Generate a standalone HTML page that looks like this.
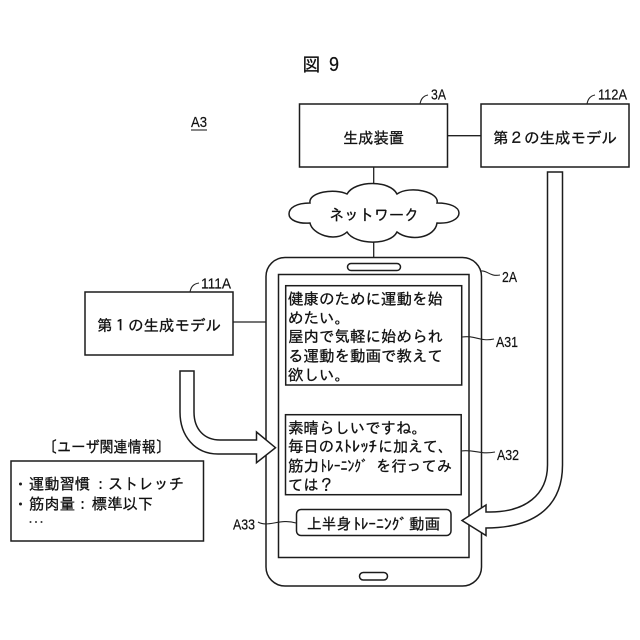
<!DOCTYPE html>
<html lang="ja">
<head>
<meta charset="utf-8">
<title>図9</title>
<style>
html,body{margin:0;padding:0;background:#fff;width:640px;height:640px;overflow:hidden}
svg{display:block}
text{font-family:"IPAGothic","Noto Sans CJK JP",sans-serif;font-size:15.6px;fill:#111;stroke:#111;stroke-width:.3px}
.l{font-family:"Liberation Sans","IPAGothic",sans-serif;font-size:15px;stroke-width:.2px}
.s{fill:#fff;stroke:#1c1c1c;stroke-width:1.5}
.n{fill:none;stroke:#222;stroke-width:1.1}
</style>
</head>
<body>
<svg width="640" height="640" viewBox="0 0 640 640" xmlns="http://www.w3.org/2000/svg">
<text x="302.5" y="71" style="font-size:18.5px" textLength="18" lengthAdjust="spacingAndGlyphs">図</text>
<text class="l" x="329" y="71" style="font-size:20px" textLength="10" lengthAdjust="spacingAndGlyphs">9</text>

<text class="l" x="191" y="127" textLength="16" lengthAdjust="spacingAndGlyphs">A3</text>
<line x1="191" y1="130" x2="207" y2="130" class="n"/>

<!-- connectors -->
<line x1="448" y1="135.7" x2="481" y2="135.7" class="n" style="stroke-width:1.3"/>
<line x1="373.7" y1="167" x2="373.7" y2="258" class="n" style="stroke-width:1.3"/>
<line x1="233" y1="322" x2="266" y2="322" class="n" style="stroke-width:1.3"/>

<!-- top boxes -->
<rect x="299.5" y="104" width="148" height="63" class="s"/>
<rect x="481" y="104" width="148" height="63" class="s"/>
<text x="343" y="143.5" textLength="61" lengthAdjust="spacingAndGlyphs">生成装置</text>
<text x="493" y="143.5" textLength="124" lengthAdjust="spacingAndGlyphs">第２の生成モデル</text>
<text class="l" x="431" y="99.5" textLength="15" lengthAdjust="spacingAndGlyphs">3A</text>
<text class="l" x="598" y="99.5" textLength="29" lengthAdjust="spacingAndGlyphs">112A</text>
<path d="M420,104 C421,99 423,96 428,95" class="n"/>
<path d="M587,104 C588,99 590,96 595,95" class="n"/>

<!-- cloud -->
<path d="M310,203 C296,203 289,208 289,214 C289,220 298,224 310,223 C312,234 335,243 347,232 C355,245 390,246 397,232 C410,242 435,238 437,223 C450,224 459,219 459,213 C459,207 450,203 437,203 C440,192 410,185 397,194 C390,180 355,180 347,194 C335,188 308,192 310,203Z" class="s"/>
<text x="329" y="220.5" textLength="90" lengthAdjust="spacingAndGlyphs">ネットワーク</text>

<!-- phone -->
<rect x="266" y="257.5" width="215.5" height="328.5" rx="19" ry="19" class="s"/>
<rect x="347.5" y="263.5" width="53" height="7" rx="3.5" ry="3.5" class="s"/>
<rect x="278.5" y="274.5" width="190.5" height="283" class="s"/>
<rect x="359.5" y="572.5" width="28" height="7.5" rx="3.7" ry="3.7" class="s"/>

<!-- A31 -->
<rect x="285.7" y="285.7" width="176" height="99.3" class="s"/>
<text x="288" y="304.5" textLength="155" lengthAdjust="spacingAndGlyphs">健康のために運動を始</text>
<text x="288" y="323.5" textLength="62" lengthAdjust="spacingAndGlyphs">めたい。</text>
<text x="288" y="342" textLength="155" lengthAdjust="spacingAndGlyphs">屋内で気軽に始められ</text>
<text x="288" y="361.5" textLength="155" lengthAdjust="spacingAndGlyphs">る運動を動画で教えて</text>
<text x="288" y="380.5" textLength="62" lengthAdjust="spacingAndGlyphs">欲しい。</text>

<!-- A32 -->
<rect x="285.5" y="414.7" width="175.7" height="80" class="s"/>
<text x="288" y="433.5" textLength="139" lengthAdjust="spacingAndGlyphs">素晴らしいですね。</text>
<text x="288" y="452" textLength="46" lengthAdjust="spacingAndGlyphs">毎日の</text>
<text x="335" y="452" textLength="42" lengthAdjust="spacingAndGlyphs">ｽﾄﾚｯﾁ</text>
<text x="378" y="452" textLength="75" lengthAdjust="spacingAndGlyphs">に加えて、</text>
<text x="288" y="471.5" textLength="31" lengthAdjust="spacingAndGlyphs">筋力</text>
<text x="320" y="471.5" textLength="48" lengthAdjust="spacingAndGlyphs">ﾄﾚｰﾆﾝｸﾞ</text>
<text x="376" y="471.5" textLength="76" lengthAdjust="spacingAndGlyphs">を行ってみ</text>
<text x="288" y="490.5" textLength="46" lengthAdjust="spacingAndGlyphs">ては？</text>

<!-- A33 -->
<rect x="296.5" y="509.5" width="154.5" height="26" rx="4.5" ry="4.5" class="s"/>
<text x="307" y="529.5" textLength="44" lengthAdjust="spacingAndGlyphs">上半身</text>
<text x="353" y="529.5" textLength="54" lengthAdjust="spacingAndGlyphs">ﾄﾚｰﾆﾝｸﾞ</text>
<text x="409" y="529.5" textLength="31" lengthAdjust="spacingAndGlyphs">動画</text>

<!-- phone labels -->
<text class="l" x="502" y="282" textLength="15" lengthAdjust="spacingAndGlyphs">2A</text>
<text class="l" x="496" y="347" textLength="22" lengthAdjust="spacingAndGlyphs">A31</text>
<text class="l" x="497" y="460" textLength="22" lengthAdjust="spacingAndGlyphs">A32</text>
<text class="l" x="233" y="529.5" textLength="22" lengthAdjust="spacingAndGlyphs">A33</text>
<path d="M481,271 C487,270 490,277 500,275" class="n"/>
<path d="M462,337 C475,335 480,342 494,339" class="n"/>
<path d="M461,451 C474,449 480,455 495,452" class="n"/>
<path d="M258,522 C268,528 280,518 296,523" class="n"/>

<!-- 111A -->
<rect x="85" y="292" width="148" height="63" class="s"/>
<text x="97" y="331" textLength="124" lengthAdjust="spacingAndGlyphs">第１の生成モデル</text>
<text class="l" x="201" y="288.5" textLength="30" lengthAdjust="spacingAndGlyphs">111A</text>
<path d="M190,292 C191,287 193,284 199,283" class="n"/>

<!-- block arrows -->
<path d="M180,371 L194,371 L194,412 C194,430 205,440 220,440 L256.5,440 L256.5,432 L275.5,447.7 L256.5,462.7 L256.5,454 L218,454 C195,454 180,436 180,412 Z" class="s"/>
<path d="M547.5,172 L562.5,172 L562.5,465 C562.5,510 530,528 486,528 L486,535.5 L462,520.5 L486,505 L486,512 L490,512 C525,512 547.5,495 547.5,465 Z" class="s"/>

<!-- user info -->
<text x="43" y="452.5" style="font-size:16px" textLength="127" lengthAdjust="spacingAndGlyphs">〔ユーザ関連情報〕</text>
<rect x="11" y="461" width="192.5" height="80" class="s"/>
<circle cx="20.5" cy="484" r="1.5" fill="#1c1c1c"/>
<text x="29" y="489.5" textLength="61" lengthAdjust="spacingAndGlyphs">運動習慣</text>
<text x="94" y="489.5" textLength="13" lengthAdjust="spacingAndGlyphs">：</text>
<text x="108" y="489.5" textLength="76" lengthAdjust="spacingAndGlyphs">ストレッチ</text>
<circle cx="20.5" cy="504" r="1.5" fill="#1c1c1c"/>
<text x="29" y="509.5" textLength="46" lengthAdjust="spacingAndGlyphs">筋肉量</text>
<text x="76" y="509.5" textLength="13" lengthAdjust="spacingAndGlyphs">：</text>
<text x="92" y="509.5" textLength="61" lengthAdjust="spacingAndGlyphs">標準以下</text>
<circle cx="30.5" cy="522" r="1" fill="#333"/>
<circle cx="36" cy="522" r="1" fill="#333"/>
<circle cx="41.5" cy="522" r="1" fill="#333"/>
</svg>
</body>
</html>
